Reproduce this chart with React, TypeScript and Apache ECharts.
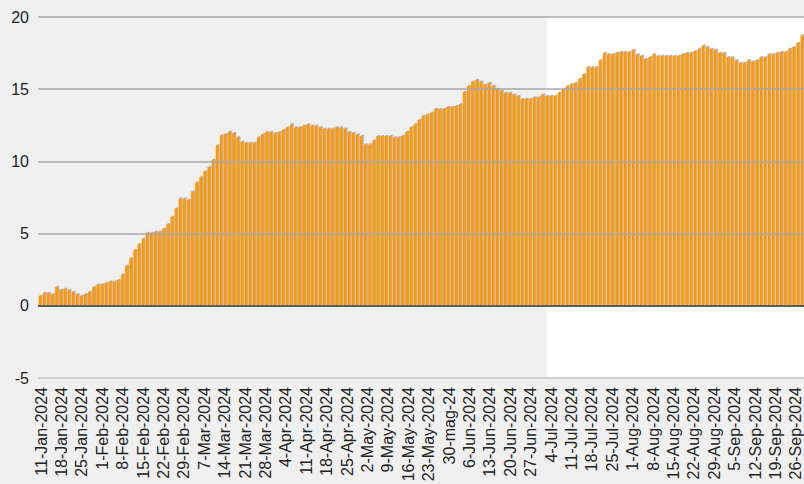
import React, { useEffect, useRef } from "react";
import * as echarts from "echarts";

const tickLabels = [
  "11-Jan-2024", "18-Jan-2024", "25-Jan-2024", "1-Feb-2024", "8-Feb-2024", "15-Feb-2024",
  "22-Feb-2024", "29-Feb-2024", "7-Mar-2024", "14-Mar-2024", "21-Mar-2024", "28-Mar-2024",
  "4-Apr-2024", "11-Apr-2024", "18-Apr-2024", "25-Apr-2024", "2-May-2024", "9-May-2024",
  "16-May-2024", "23-May-2024", "30-mag-24", "6-Jun-2024", "13-Jun-2024", "20-Jun-2024",
  "27-Jun-2024", "4-Jul-2024", "11-Jul-2024", "18-Jul-2024", "25-Jul-2024", "1-Aug-2024",
  "8-Aug-2024", "15-Aug-2024", "22-Aug-2024", "29-Aug-2024", "5-Sep-2024", "12-Sep-2024",
  "19-Sep-2024", "26-Sep-2024",
];

const valuesJanFeb = [
  0.69, 0.9, 0.9, 0.81, 1.3, 1.11, 1.18, 1.11, 0.97, 0.81, 0.69, 0.81, 0.97, 1.3, 1.48, 1.48,
  1.6, 1.69, 1.69, 1.8, 2.18, 2.78, 3.29, 3.87, 4.26, 4.65, 5.05, 5.05, 5.14, 5.14, 5.35, 5.65,
  6.16, 6.74, 7.43, 7.43, 7.34, 7.92, 8.54, 8.91, 9.31, 9.61, 10.12, 11.11, 11.81, 11.9, 12.06,
];
const valuesMarMay = [
  11.97, 11.67, 11.37, 11.3, 11.3, 11.3, 11.67, 11.875, 12.04, 12.04, 11.97, 12.04, 12.18,
  12.36, 12.57, 12.36, 12.36, 12.48, 12.57, 12.48, 12.48, 12.36, 12.27, 12.27, 12.27, 12.36,
  12.36, 12.27, 12.04, 11.97, 11.875, 11.76, 11.18, 11.18, 11.46, 11.76, 11.76, 11.76, 11.76,
  11.67, 11.67, 11.76, 12.04, 12.36, 12.57, 12.87, 13.16,
];
const valuesMayJul = [
  13.26, 13.38, 13.63, 13.63, 13.63, 13.77, 13.77, 13.84, 13.96, 14.81, 15.23, 15.53, 15.65,
  15.53, 15.32, 15.44, 15.23, 15.02, 14.91, 14.75, 14.75, 14.63, 14.54, 14.33, 14.33, 14.33,
  14.44, 14.44, 14.63, 14.54, 14.54, 14.54, 14.75, 15.02, 15.23, 15.35, 15.44, 15.72, 16.04,
  16.53, 16.53, 16.53, 17.01, 17.52, 17.43, 17.43, 17.52,
];
const valuesJulSep = [
  17.59, 17.59, 17.59, 17.73, 17.43, 17.31, 17.1, 17.22, 17.43, 17.31, 17.31, 17.31, 17.31,
  17.31, 17.31, 17.43, 17.52, 17.52, 17.64, 17.8, 18.03, 17.92, 17.8, 17.73, 17.52, 17.52,
  17.22, 17.22, 17.01, 16.83, 16.83, 17.01, 16.92, 17.01, 17.22, 17.22, 17.43, 17.43, 17.52,
  17.59, 17.59, 17.8, 17.92, 18.22, 18.73,
];
const values = [...valuesJanFeb, ...valuesMarMay, ...valuesMayJul, ...valuesJulSep];

const startDate = "2024-01-11";
const whiteFromIndex = 123;

function businessDays(start: string, n: number): string[] {
  const out: string[] = [];
  const d = new Date(start + "T00:00:00Z");
  while (out.length < n) {
    const wd = d.getUTCDay();
    if (wd !== 0 && wd !== 6) out.push(d.toISOString().slice(0, 10));
    d.setUTCDate(d.getUTCDate() + 1);
  }
  return out;
}

const categories = businessDays(startDate, values.length);

export default function App() {
  const ref = useRef<HTMLDivElement>(null);
  useEffect(() => {
    if (!ref.current) return;
    const chart = echarts.init(ref.current, undefined, { renderer: "svg" });
    const font = "'Liberation Sans', Arial, sans-serif";
    chart.setOption({
      animation: false,
      backgroundColor: "#f0f0f0",
      grid: [
        { left: 38, right: 0, top: 17, bottom: 106, containLabel: false, outerBoundsMode: "none" },
        { left: 39, right: 6, top: 17, bottom: 106, containLabel: false, outerBoundsMode: "none" },
      ],
      xAxis: [
        {
          type: "category",
          gridIndex: 0,
          data: categories,
          boundaryGap: true,
          axisLine: { show: false },
          axisTick: { show: false },
          axisLabel: { show: false },
          splitLine: { show: false },
        },
        {
          type: "category",
          gridIndex: 1,
          data: categories,
          boundaryGap: true,
          axisLine: { show: false },
          axisTick: { show: false },
          axisLabel: {
            interval: 4,
            rotate: 90,
            margin: 9,
            color: "#222",
            fontSize: 16,
            fontFamily: font,
            hideOverlap: false,
            formatter: (_v: string, idx: number) => tickLabels[Math.round(idx / 5)] ?? "",
          },
          splitLine: { show: false },
        },
      ],
      yAxis: [
        {
          type: "value",
          gridIndex: 0,
          min: -5,
          max: 20,
          interval: 5,
          z: 3,
          axisLine: { show: false },
          axisTick: { show: false },
          axisLabel: { color: "#222", fontSize: 16, fontFamily: font, margin: 9 },
          splitLine: {
            lineStyle: {
              color: ["#c6c6c6", "#a9a9a9", "#a9a9a9", "#a9a9a9", "#a9a9a9", "#a9a9a9"],
              width: 1.6,
            },
          },
        },
        { type: "value", gridIndex: 1, min: -5, max: 20, show: false },
      ],
      series: [
        {
          type: "bar",
          xAxisIndex: 0,
          yAxisIndex: 0,
          data: values,
          barWidth: 2.8,
          itemStyle: {
            color: "#ff9900",
            shadowColor: "rgba(150,150,150,0.75)",
            shadowBlur: 0,
            shadowOffsetX: 1.2,
            shadowOffsetY: -1,
          },
          markLine: {
            silent: true,
            symbol: "none",
            label: { show: false },
            lineStyle: { color: "#5a5a5a", width: 2, type: "solid" },
            data: [{ yAxis: 0 }],
            z: 4,
          },
        },
      ],
    });
    const x0 = chart.convertToPixel({ xAxisIndex: 0 }, whiteFromIndex) as number;
    const yTop = chart.convertToPixel({ yAxisIndex: 0 }, 20) as number;
    const yBot = chart.convertToPixel({ yAxisIndex: 0 }, -5) as number;
    const w = chart.getWidth();
    chart.setOption({
      graphic: [
        {
          type: "rect",
          z: -1,
          silent: true,
          shape: { x: x0, y: yTop, width: w - x0, height: yBot - yTop },
          style: { fill: "#ffffff" },
        },
      ],
    });
    return () => chart.dispose();
  }, []);
  return (
    <div
      ref={ref}
      style={{ position: "absolute", left: 0, top: 0, width: 804, height: 484 }}
    />
  );
}
